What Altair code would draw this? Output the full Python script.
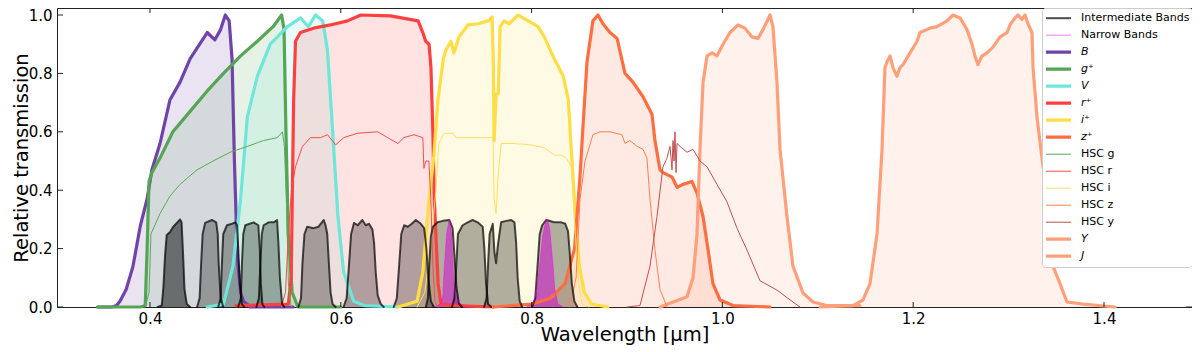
import altair as alt
import pandas as pd

# ---------------- broad bands (wavelength in micron, relative transmission) ----------------
B_WL = [0.345, 0.360, 0.365, 0.3685, 0.375, 0.382, 0.390, 0.397, 0.402, 0.4105, 0.421, 0.4315, 0.442, 0.450,
        0.460, 0.468, 0.474, 0.479, 0.483, 0.486, 0.4885, 0.4915, 0.495, 0.498, 0.505, 0.55]
B_TR = [0.0, 0.0, 0.005, 0.02, 0.06, 0.137, 0.28, 0.37, 0.47, 0.56, 0.71, 0.77, 0.85, 0.89,
        0.94, 0.915, 0.95, 1.0, 0.98, 0.85, 0.5, 0.17, 0.05, 0.02, 0.0, 0.0]

G_WL = [0.345, 0.390, 0.395, 0.397, 0.399, 0.402, 0.4105, 0.424, 0.442, 0.460, 0.477, 0.495, 0.5125, 0.529,
        0.538, 0.5405, 0.5425, 0.545, 0.549, 0.555, 0.60]
G_TR = [0.0, 0.0, 0.005, 0.2, 0.43, 0.46, 0.51, 0.60, 0.67, 0.74, 0.80, 0.86, 0.91, 0.96,
        1.0, 0.95, 0.6, 0.25, 0.05, 0.0, 0.0]

V_WL = [0.46, 0.477, 0.487, 0.495, 0.502, 0.5125, 0.526, 0.544, 0.558, 0.566, 0.5735, 0.581, 0.586, 0.5915,
        0.597, 0.603, 0.6135, 0.625, 0.66]
V_TR = [0.0, 0.01, 0.14, 0.37, 0.65, 0.79, 0.90, 0.96, 0.99, 0.96, 1.0, 0.98, 0.88, 0.6,
        0.31, 0.12, 0.02, 0.005, 0.0]

R_WL = [0.49, 0.545, 0.548, 0.5505, 0.5525, 0.5577, 0.5714, 0.589, 0.607, 0.621, 0.652, 0.681, 0.686, 0.689,
        0.6925, 0.6945, 0.6965, 0.698, 0.702, 0.705, 0.72, 0.76]
R_TR = [0.005, 0.01, 0.1, 0.7, 0.91, 0.94, 0.955, 0.966, 0.98, 1.0, 0.997, 0.98, 0.94, 0.91,
        0.90, 0.82, 0.6, 0.37, 0.08, 0.01, 0.005, 0.0]

I_WL = [0.66, 0.68, 0.686, 0.692, 0.6976, 0.7018, 0.7075, 0.7102, 0.7155, 0.7186, 0.7239, 0.7333, 0.7438,
        0.7544, 0.7586, 0.7600, 0.7607, 0.7628, 0.7650, 0.767, 0.7712, 0.7764, 0.7859, 0.7964, 0.8069,
        0.8133, 0.8238, 0.8332, 0.8385, 0.8416, 0.8448, 0.85, 0.8553, 0.8627, 0.88]
I_TR = [0.0, 0.02, 0.12, 0.35, 0.52, 0.71, 0.85, 0.88, 0.91, 0.87, 0.925, 0.966, 0.97,
        0.98, 0.993, 0.82, 0.57, 0.73, 0.73, 0.96, 0.98, 0.97, 1.0, 0.98, 0.96,
        0.925, 0.85, 0.79, 0.71, 0.54, 0.37, 0.14, 0.05, 0.01, 0.0]

Z_WL = [0.76, 0.80, 0.82, 0.835, 0.845, 0.8508, 0.8539, 0.8581, 0.8643, 0.8696, 0.8748, 0.8822, 0.8896,
        0.8979, 0.9062, 0.9168, 0.9262, 0.9293, 0.9346, 0.9377, 0.9472, 0.9525, 0.9587, 0.9681, 0.9734,
        0.9797, 0.985, 0.9901, 0.9975, 1.0111, 1.05]
Z_TR = [0.0, 0.01, 0.03, 0.08, 0.2, 0.45, 0.62, 0.84, 0.98, 1.0, 0.97, 0.94, 0.92,
        0.80, 0.77, 0.72, 0.66, 0.57, 0.47, 0.46, 0.445, 0.41, 0.42, 0.43, 0.39,
        0.31, 0.195, 0.08, 0.024, 0.005, 0.0]

Y_WL = [0.9346, 0.9629, 0.9692, 0.9734, 0.9765, 0.9797, 0.9839, 0.9891, 0.9943, 1.0006, 1.0080, 1.0164,
        1.0237, 1.0310, 1.0373, 1.0426, 1.0499, 1.0530, 1.0572, 1.0604, 1.0677, 1.0740, 1.0845, 1.0950,
        1.1096, 1.1442]
Y_TR = [0.0, 0.035, 0.1, 0.25, 0.54, 0.77, 0.86, 0.87, 0.86, 0.90, 0.94, 0.966,
        0.955, 0.925, 0.92, 0.95, 1.0, 0.96, 0.77, 0.54, 0.31, 0.14, 0.048, 0.017,
        0.005, 0.005]

J_WL = [1.1023, 1.1369, 1.1474, 1.1547, 1.1621, 1.1673, 1.1704, 1.1725, 1.1757, 1.1788, 1.1830, 1.1862,
        1.1893, 1.1966, 1.2040, 1.2071, 1.2176, 1.2249, 1.2354, 1.2417, 1.2491, 1.2564, 1.2616, 1.2648,
        1.2679, 1.2721, 1.2774, 1.2836, 1.2910, 1.2983, 1.3015, 1.3067, 1.3099, 1.3140, 1.3172, 1.3203,
        1.3245, 1.3256, 1.3298, 1.3361, 1.3434, 1.3465, 1.3539, 1.3612, 1.3780, 1.4115]
J_TR = [0.0, 0.005, 0.024, 0.08, 0.25, 0.54, 0.82, 0.84, 0.86, 0.82, 0.79, 0.82,
        0.83, 0.87, 0.91, 0.94, 0.955, 0.96, 0.98, 1.0, 0.99, 0.95, 0.90, 0.86,
        0.83, 0.86, 0.87, 0.89, 0.925, 0.94, 0.966, 0.99, 1.0, 0.985, 1.0, 0.97,
        0.94, 0.82, 0.65, 0.48, 0.31, 0.14, 0.08, 0.017, 0.01, 0.0]

# ---------------- HSC bands (thin lines) ----------------
HG_WL = [0.395, 0.399, 0.401, 0.4105, 0.421, 0.4315, 0.4494, 0.4662, 0.4841, 0.502, 0.5188, 0.5335,
         0.5388, 0.5409, 0.543, 0.5451, 0.548]
HG_TR = [0.0, 0.05, 0.25, 0.32, 0.38, 0.42, 0.47, 0.50, 0.53, 0.55, 0.57, 0.58,
         0.60, 0.55, 0.37, 0.08, 0.0]

HR_WL = [0.5377, 0.542, 0.5451, 0.5483, 0.5525, 0.5598, 0.5682, 0.5788, 0.5861, 0.5945, 0.603, 0.6177,
         0.6387, 0.6492, 0.6598, 0.6661, 0.6766, 0.686, 0.6871, 0.6892, 0.6923, 0.6944, 0.6965, 0.6987,
         0.7018]
HR_TR = [0.0, 0.05, 0.25, 0.40, 0.48, 0.55, 0.58, 0.58, 0.59, 0.555, 0.58, 0.595,
         0.60, 0.58, 0.56, 0.58, 0.59, 0.58, 0.475, 0.50, 0.50, 0.37, 0.14, 0.02,
         0.0]

HI_WL = [0.68, 0.688, 0.694, 0.6997, 0.7028, 0.7081, 0.7176, 0.7207, 0.7365, 0.747, 0.7596, 0.7607,
         0.7628, 0.7649, 0.768, 0.7817, 0.7996, 0.8133, 0.8238, 0.8311, 0.8364, 0.8416, 0.8448, 0.849,
         0.853, 0.86]
HI_TR = [0.0, 0.05, 0.2, 0.40, 0.56, 0.595, 0.595, 0.58, 0.58, 0.58, 0.58, 0.37,
         0.32, 0.45, 0.56, 0.56, 0.555, 0.545, 0.52, 0.52, 0.51, 0.48, 0.31, 0.08,
         0.01, 0.0]

HZ_WL = [0.8402, 0.8466, 0.8508, 0.856, 0.8643, 0.8717, 0.8822, 0.8947, 0.8979, 0.9031, 0.9105, 0.9168,
         0.9209, 0.9241, 0.9293, 0.9346, 0.942]
HZ_TR = [0.0, 0.1, 0.37, 0.50, 0.59, 0.60, 0.60, 0.59, 0.56, 0.57, 0.55, 0.54,
         0.51, 0.37, 0.195, 0.06, 0.0]

HY_WL = [0.9000, 0.9136, 0.9241, 0.9314, 0.9377, 0.9419, 0.9451, 0.9472, 0.9482, 0.9493, 0.9503, 0.9514,
         0.9524, 0.9556, 0.9629, 0.9692, 0.9765, 0.9839, 0.9943, 1.0048, 1.0153, 1.0258, 1.0394, 1.0572,
         1.0740, 1.0813]
HY_TR = [0.0, 0.005, 0.14, 0.31, 0.48, 0.51, 0.55, 0.47, 0.57, 0.50, 0.60, 0.46,
         0.56, 0.55, 0.53, 0.54, 0.50, 0.48, 0.42, 0.36, 0.27, 0.195, 0.09, 0.058,
         0.017, 0.0]

# ---------------- intermediate bands ----------------
IA427_WL = [0.4080, 0.4123, 0.4140, 0.4158, 0.4175, 0.4210, 0.4242, 0.4281, 0.4315, 0.4331, 0.4347, 0.4362, 0.4386, 0.4421]
IA427_TR = [0.0, 0.005, 0.066, 0.178, 0.247, 0.257, 0.274, 0.288, 0.30, 0.29, 0.178, 0.06, 0.01, 0.0]
IA464_WL = [0.4494, 0.4520, 0.4536, 0.4552, 0.4578, 0.4649, 0.4694, 0.4710, 0.4720, 0.4741, 0.4768]
IA464_TR = [0.0, 0.03, 0.15, 0.25, 0.288, 0.298, 0.29, 0.25, 0.15, 0.03, 0.0]
IA484_WL = [0.4715, 0.4741, 0.4754, 0.4768, 0.4807, 0.4859, 0.4894, 0.4912, 0.4925, 0.4941, 0.4964, 0.4988]
IA484_TR = [0.0, 0.03, 0.15, 0.25, 0.28, 0.285, 0.29, 0.28, 0.2, 0.08, 0.01, 0.0]
IA505_WL = [0.4925, 0.4952, 0.4964, 0.4978, 0.4999, 0.5086, 0.5136, 0.5151, 0.5162, 0.5178, 0.5199]
IA505_TR = [0.0, 0.03, 0.15, 0.25, 0.28, 0.29, 0.28, 0.2, 0.08, 0.01, 0.0]
IA527_WL = [0.5115, 0.5141, 0.5157, 0.5172, 0.5191, 0.5244, 0.5297, 0.5332, 0.5346, 0.5362, 0.5385, 0.5409]
IA527_TR = [0.0, 0.03, 0.15, 0.25, 0.28, 0.29, 0.29, 0.298, 0.22, 0.1, 0.01, 0.0]
IA574_WL = [0.5556, 0.5583, 0.5598, 0.5619, 0.5648, 0.5714, 0.5767, 0.5822, 0.5840, 0.5858, 0.5875, 0.5893, 0.5914, 0.5945]
IA574_TR = [0.0, 0.03, 0.15, 0.25, 0.275, 0.27, 0.275, 0.298, 0.28, 0.25, 0.15, 0.05, 0.01, 0.0]
IA624_WL = [0.6029, 0.6061, 0.6087, 0.6108, 0.6138, 0.6177, 0.6226, 0.6261, 0.6296, 0.6332, 0.6349, 0.6366, 0.6387, 0.6419, 0.6450]
IA624_TR = [0.0, 0.03, 0.15, 0.25, 0.288, 0.28, 0.298, 0.28, 0.285, 0.265, 0.22, 0.12, 0.04, 0.01, 0.0]
IA679_WL = [0.6555, 0.6587, 0.6613, 0.6634, 0.6664, 0.6702, 0.6744, 0.6787, 0.6839, 0.6874, 0.6897, 0.6918, 0.6944, 0.6976]
IA679_TR = [0.0, 0.03, 0.15, 0.25, 0.28, 0.275, 0.285, 0.298, 0.285, 0.27, 0.2, 0.1, 0.02, 0.0]
IA709_WL = [0.6892, 0.6913, 0.6928, 0.6944, 0.6965, 0.7014, 0.7070, 0.7137, 0.7172, 0.7191, 0.7212, 0.7239, 0.7270]
IA709_TR = [0.0, 0.03, 0.15, 0.24, 0.275, 0.29, 0.295, 0.298, 0.27, 0.18, 0.07, 0.01, 0.0]
IA738_WL = [0.7165, 0.7191, 0.7212, 0.7228, 0.7277, 0.7330, 0.7382, 0.7435, 0.7488, 0.7505, 0.7523, 0.7544, 0.7575]
IA738_TR = [0.0, 0.03, 0.15, 0.25, 0.28, 0.29, 0.298, 0.29, 0.275, 0.2, 0.08, 0.01, 0.0]
IA767_WL = [0.7502, 0.7528, 0.7544, 0.7560, 0.7593, 0.7610, 0.7628, 0.7646, 0.7680, 0.7733, 0.7786, 0.7821, 0.7838, 0.7854, 0.7875, 0.7901]
IA767_TR = [0.0, 0.03, 0.15, 0.25, 0.285, 0.19, 0.15, 0.21, 0.29, 0.295, 0.298, 0.29, 0.22, 0.1, 0.02, 0.0]
IA827_WL = [0.8006, 0.8038, 0.8064, 0.8085, 0.8111, 0.8154, 0.8238, 0.8311, 0.8353, 0.8382, 0.8401, 0.8422, 0.8448, 0.8480]
IA827_TR = [0.0, 0.03, 0.15, 0.25, 0.28, 0.298, 0.29, 0.29, 0.285, 0.26, 0.18, 0.08, 0.02, 0.0]

# ---------------- narrow bands ----------------
NB711_WL = [0.6976, 0.7049, 0.7070, 0.7086, 0.7109, 0.7136, 0.7161, 0.7182, 0.7207, 0.7260, 0.7312]
NB711_TR = [0.0, 0.01, 0.04, 0.14, 0.25, 0.298, 0.25, 0.10, 0.03, 0.01, 0.0]
NB816_WL = [0.7943, 0.8014, 0.8049, 0.8084, 0.8119, 0.8154, 0.8172, 0.8189, 0.8225, 0.8242, 0.8277, 0.8332]
NB816_TR = [0.0, 0.01, 0.05, 0.14, 0.25, 0.298, 0.29, 0.27, 0.14, 0.06, 0.01, 0.0]

# ---------------- legend / style tables ----------------
GROUPS = ["Intermediate Bands", "Narrow Bands", "B", "g\u207a", "V", "r\u207a", "i\u207a", "z\u207a",
          "HSC g", "HSC r", "HSC i", "HSC z", "HSC y", "Y", "J"]
COLORS = ["#000000", "#ff00ff", "#7043a8", "#55a555", "#6ee6da", "#ff4040", "#ffdd44", "#ff6e40",
          "#5aa95a", "#ff4a4a", "#ffe060", "#ff7f50", "#c05050", "#ffa07a", "#ffa07a"]
WIDTHS = [2.0, 1.0, 3.2, 3.2, 3.2, 3.2, 3.2, 3.2, 1.0, 1.0, 1.0, 1.0, 1.0, 3.2, 3.2]
ALPHAS = [0.7, 0.5, 1, 1, 1, 1, 1, 1, 1, 1, 1, 1, 1, 1, 1]
ITALIC = ["B", "g\u207a", "V", "r\u207a", "i\u207a", "z\u207a", "Y", "J"]

XTICKS = [0.4, 0.6, 0.8, 1.0, 1.2, 1.4]
YTICKS = [0.0, 0.2, 0.4, 0.6, 0.8, 1.0]

BROAD = [("B", B_WL, B_TR), ("g\u207a", G_WL, G_TR), ("V", V_WL, V_TR), ("r\u207a", R_WL, R_TR),
         ("i\u207a", I_WL, I_TR), ("z\u207a", Z_WL, Z_TR), ("Y", Y_WL, Y_TR), ("J", J_WL, J_TR)]
HSC = [("HSC g", HG_WL, HG_TR), ("HSC r", HR_WL, HR_TR), ("HSC i", HI_WL, HI_TR),
       ("HSC z", HZ_WL, HZ_TR), ("HSC y", HY_WL, HY_TR)]
IA = [("IA427", IA427_WL, IA427_TR), ("IA464", IA464_WL, IA464_TR), ("IA484", IA484_WL, IA484_TR),
      ("IA505", IA505_WL, IA505_TR), ("IA527", IA527_WL, IA527_TR), ("IA574", IA574_WL, IA574_TR),
      ("IA624", IA624_WL, IA624_TR), ("IA679", IA679_WL, IA679_TR), ("IA709", IA709_WL, IA709_TR),
      ("IA738", IA738_WL, IA738_TR), ("IA767", IA767_WL, IA767_TR), ("IA827", IA827_WL, IA827_TR)]
NB = [("NB711", NB711_WL, NB711_TR), ("NB816", NB816_WL, NB816_TR)]

rows = []
for name, wl, tr in BROAD:
    rows += [{"band": name, "group": name, "kind": "broad", "w": w, "t": t} for w, t in zip(wl, tr)]
for name, wl, tr in HSC:
    rows += [{"band": name, "group": name, "kind": "hsc", "w": w, "t": t} for w, t in zip(wl, tr)]
for name, wl, tr in IA:
    rows += [{"band": name, "group": "Intermediate Bands", "kind": "ia", "w": w, "t": t} for w, t in zip(wl, tr)]
for name, wl, tr in NB:
    rows += [{"band": name, "group": "Narrow Bands", "kind": "nb", "w": w, "t": t} for w, t in zip(wl, tr)]
df = pd.DataFrame(rows)
xt_df = pd.DataFrame({"w": XTICKS})
yt_df = pd.DataFrame({"t": YTICKS})

# ---------------- layout ----------------
PLOT_W = 1135
PLOT_H = 299
FRAME = "#222222"
FONT = "DejaVu Sans"

X_SCALE = alt.Scale(domain=[0.30252, 1.49224], nice=False, zero=False)
Y_SCALE = alt.Scale(domain=[0.0, 1.024], nice=False, zero=False)
X_AXIS = alt.Axis(values=XTICKS, format=".1f", title="Wavelength [\u03bcm]", grid=False, domain=False,
                  ticks=False, tickSize=0, labelPadding=4, labelFontSize=15, titleFontSize=19.5,
                  titleY=33, titleBaseline="alphabetic", labelFlush=False, labelOverlap=False)
Y_AXIS = alt.Axis(values=YTICKS, format=".1f", title="Relative transmission", grid=False, domain=False,
                  ticks=False, tickSize=0, labelPadding=5, labelFontSize=15, titleFontSize=19.5,
                  titleX=-30, titleY=PLOT_H / 2, titleBaseline="alphabetic", titleAngle=270,
                  titleAlign="center", labelFlush=False, labelOverlap=False)


def xenc():
    return alt.X("w:Q", scale=X_SCALE, axis=X_AXIS)


def yenc():
    return alt.Y("t:Q", scale=Y_SCALE, axis=Y_AXIS, stack=None)


broad_names = [b[0] for b in BROAD]
fill_colors = [COLORS[GROUPS.index(n)] for n in broad_names]

broad_fill = alt.Chart(df).transform_filter("datum.kind == 'broad'").mark_area(
    fillOpacity=0.15, strokeWidth=0).encode(
    x=xenc(), y=yenc(),
    fill=alt.Fill("group:N", scale=alt.Scale(domain=broad_names, range=fill_colors), legend=None),
    detail="band:N")

ia_fill_dark = alt.Chart(df).transform_filter("datum.band == 'IA427'").mark_area(
    color="#000000", fillOpacity=0.5, strokeWidth=0).encode(x=xenc(), y=yenc(), detail="band:N")
ia_fill = alt.Chart(df).transform_filter("datum.kind == 'ia' && datum.band != 'IA427'").mark_area(
    color="#000000", fillOpacity=0.3, strokeWidth=0).encode(x=xenc(), y=yenc(), detail="band:N")
nb_fill = alt.Chart(df).transform_filter("datum.kind == 'nb'").mark_area(
    color="#d000d0", fillOpacity=0.5, strokeWidth=0).encode(x=xenc(), y=yenc(), detail="band:N")

ital_list = ",".join("'" + s + "'" for s in ITALIC)
LEG = alt.Legend(title=None, orient="top-right", offset=0, symbolType="stroke", symbolSize=625,
                 labelFont=FONT, labelFontSize=11, labelColor="black", labelOffset=8, padding=2,
                 rowPadding=0, clipHeight=16.4, fillColor="#ffffff", strokeColor="#cccccc",
                 cornerRadius=3, labelLimit=300,
                 labelFontStyle=alt.ExprRef(expr="indexof([" + ital_list + "], datum.value) >= 0 ? 'italic' : 'normal'"))

lines = alt.Chart(df).mark_line(strokeJoin="round", strokeCap="round").encode(
    x=xenc(), y=yenc(),
    color=alt.Color("group:N", scale=alt.Scale(domain=GROUPS, range=COLORS), legend=LEG),
    strokeWidth=alt.StrokeWidth("group:N", scale=alt.Scale(type="ordinal", domain=GROUPS, range=WIDTHS), legend=LEG),
    opacity=alt.Opacity("group:N", scale=alt.Scale(type="ordinal", domain=GROUPS, range=ALPHAS), legend=LEG),
    detail="band:N")

tick_b = alt.Chart(xt_df).mark_rule(color=FRAME, strokeWidth=1).encode(
    x=xenc(), y=alt.value(PLOT_H), y2=alt.value(PLOT_H - 5))
tick_t = alt.Chart(xt_df).mark_rule(color=FRAME, strokeWidth=1).encode(
    x=xenc(), y=alt.value(0), y2=alt.value(5))
tick_l = alt.Chart(yt_df).mark_rule(color=FRAME, strokeWidth=1).encode(
    y=yenc(), x=alt.value(0), x2=alt.value(6))
tick_r = alt.Chart(yt_df).mark_rule(color=FRAME, strokeWidth=1).encode(
    y=yenc(), x=alt.value(PLOT_W - 6), x2=alt.value(PLOT_W))

chart = alt.layer(broad_fill, ia_fill_dark, ia_fill, nb_fill, lines, tick_b, tick_t, tick_l, tick_r).properties(
    width=PLOT_W, height=PLOT_H,
    autosize=alt.AutoSizeParams(type="none"),
    padding={"left": 49, "top": 0, "right": 0, "bottom": 40},
).configure_view(stroke=FRAME, strokeWidth=1).configure_axis(
    labelFont=FONT, titleFont=FONT, labelColor="black", titleColor="black", titleFontWeight="normal"
).configure_legend(
    labelFont=FONT, labelFontSize=11, labelColor="black", labelOffset=8, padding=2, rowPadding=0,
    clipHeight=16.4, symbolType="stroke", symbolSize=625, fillColor="#ffffff", strokeColor="#cccccc",
    cornerRadius=3, labelLimit=300)

chart.save("out.html", embed_options={"renderer": "svg", "actions": False})
